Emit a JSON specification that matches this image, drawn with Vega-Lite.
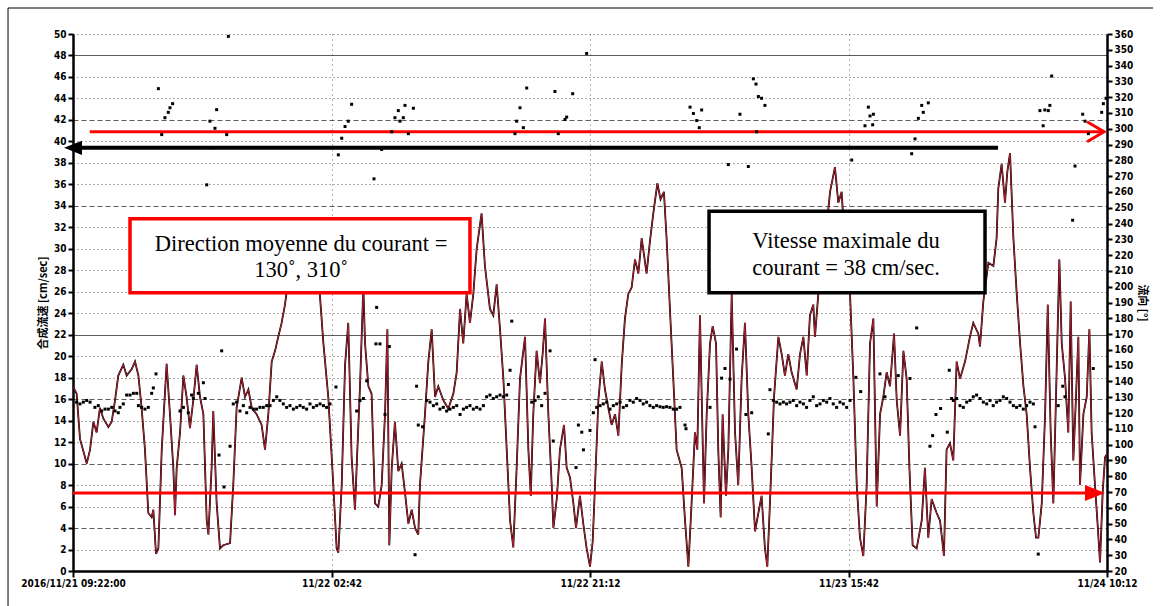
{
  "$schema": "https://vega.github.io/schema/vega-lite/v6.json",
  "width": 1034,
  "height": 537,
  "autosize": {"type": "none"},
  "padding": {"left": 73, "top": 34, "right": 54, "bottom": 35},
  "background": "white",
  "config": {"view": {"stroke": null}},
  "datasets": {
    "speed": [
      {"h":0.0,"v":17.2},{"h":0.26,"v":16.5},{"h":0.5,"v":12.3},{"h":0.86,"v":10.6},{"h":0.98,"v":10.0},{"h":1.22,"v":11.3},{"h":1.46,"v":13.9},{"h":1.69,"v":12.9},{"h":1.93,"v":15.2},{"h":2.17,"v":14.2},{"h":2.53,"v":13.4},{"h":2.77,"v":13.9},{"h":3.01,"v":15.9},{"h":3.24,"v":18.2},{"h":3.6,"v":19.2},{"h":3.84,"v":18.2},{"h":4.2,"v":18.8},{"h":4.44,"v":19.5},{"h":4.68,"v":18.2},{"h":4.91,"v":15.2},{"h":5.15,"v":11.3},{"h":5.39,"v":5.4},{"h":5.63,"v":5.0},{"h":5.75,"v":5.7},{"h":5.94,"v":1.6},{"h":6.11,"v":2.1},{"h":6.35,"v":11.3},{"h":6.7,"v":19.3},{"h":6.94,"v":14.6},{"h":7.18,"v":9.6},{"h":7.3,"v":5.2},{"h":7.42,"v":9.6},{"h":7.66,"v":12.9},{"h":7.9,"v":18.2},{"h":8.13,"v":16.2},{"h":8.37,"v":13.3},{"h":8.61,"v":15.9},{"h":8.85,"v":19.2},{"h":9.09,"v":16.2},{"h":9.33,"v":14.6},{"h":9.57,"v":4.7},{"h":9.69,"v":3.4},{"h":9.92,"v":9.6},{"h":10.04,"v":14.9},{"h":10.28,"v":6.3},{"h":10.52,"v":2.1},{"h":10.76,"v":2.4},{"h":11.24,"v":2.6},{"h":11.47,"v":8.0},{"h":11.71,"v":15.2},{"h":12.07,"v":18.0},{"h":12.31,"v":16.2},{"h":12.55,"v":16.9},{"h":12.79,"v":15.2},{"h":13.14,"v":14.6},{"h":13.5,"v":13.6},{"h":13.74,"v":11.3},{"h":13.98,"v":14.6},{"h":14.22,"v":19.5},{"h":14.46,"v":20.5},{"h":14.69,"v":21.8},{"h":14.93,"v":23.1},{"h":15.17,"v":24.8},{"h":15.41,"v":27.1},{"h":15.65,"v":28.5},{"h":16.01,"v":26.5},{"h":16.25,"v":29.5},{"h":16.96,"v":31.0},{"h":17.4,"v":29.0},{"h":17.68,"v":25.5},{"h":17.92,"v":21.2},{"h":18.27,"v":16.2},{"h":18.63,"v":8.0},{"h":18.87,"v":2.1},{"h":18.99,"v":1.7},{"h":19.23,"v":8.0},{"h":19.47,"v":19.2},{"h":19.7,"v":23.1},{"h":19.94,"v":10.6},{"h":20.18,"v":5.7},{"h":20.35,"v":11.3},{"h":20.54,"v":17.2},{"h":20.78,"v":26.5},{"h":20.9,"v":21.2},{"h":21.14,"v":17.2},{"h":21.37,"v":16.5},{"h":21.61,"v":6.3},{"h":21.85,"v":6.0},{"h":22.09,"v":8.0},{"h":22.33,"v":14.6},{"h":22.5,"v":22.5},{"h":22.64,"v":2.4},{"h":22.81,"v":9.6},{"h":23.04,"v":13.9},{"h":23.28,"v":9.3},{"h":23.52,"v":10.0},{"h":23.76,"v":7.3},{"h":24.0,"v":4.4},{"h":24.24,"v":5.7},{"h":24.48,"v":4.0},{"h":24.71,"v":3.4},
      {"h":24.83,"v":8.0},{"h":25.19,"v":14.6},{"h":25.43,"v":19.5},{"h":25.67,"v":22.5},{"h":25.91,"v":16.2},{"h":26.14,"v":17.2},{"h":26.5,"v":15.9},{"h":26.86,"v":15.1},{"h":27.22,"v":16.5},{"h":27.46,"v":18.5},{"h":27.7,"v":24.4},{"h":27.93,"v":21.2},{"h":28.17,"v":25.8},{"h":28.41,"v":23.1},{"h":28.65,"v":25.8},{"h":28.89,"v":30.0},{"h":29.24,"v":33.3},{"h":29.48,"v":28.4},{"h":29.84,"v":24.4},{"h":30.08,"v":23.8},{"h":30.32,"v":26.7},{"h":30.56,"v":22.5},{"h":30.8,"v":17.9},{"h":31.04,"v":11.3},{"h":31.28,"v":4.7},{"h":31.51,"v":2.2},{"h":31.75,"v":9.6},{"h":31.99,"v":17.9},{"h":32.35,"v":21.8},{"h":32.59,"v":11.3},{"h":32.76,"v":7.0},{"h":32.94,"v":14.6},{"h":33.18,"v":20.5},{"h":33.42,"v":17.5},{"h":33.61,"v":20.2},{"h":33.78,"v":23.5},{"h":34.02,"v":14.6},{"h":34.26,"v":8.0},{"h":34.38,"v":4.0},{"h":34.62,"v":6.7},{"h":34.85,"v":11.3},{"h":35.14,"v":13.6},{"h":35.33,"v":9.6},{"h":35.57,"v":8.7},{"h":35.81,"v":6.3},{"h":36.0,"v":4.0},{"h":36.28,"v":7.0},{"h":36.52,"v":4.4},{"h":36.76,"v":2.1},{"h":37.0,"v":0.4},{"h":37.19,"v":2.7},{"h":37.36,"v":8.0},{"h":37.6,"v":15.9},{"h":37.84,"v":19.5},{"h":38.07,"v":16.9},{"h":38.31,"v":15.2},{"h":38.55,"v":13.6},{"h":38.79,"v":14.6},{"h":39.03,"v":12.6},{"h":39.27,"v":19.2},{"h":39.5,"v":23.5},{"h":39.74,"v":25.8},{"h":39.98,"v":26.4},{"h":40.22,"v":29.0},{"h":40.46,"v":27.7},{"h":40.7,"v":31.0},{"h":41.05,"v":27.7},{"h":41.29,"v":30.7},{"h":41.53,"v":33.3},{"h":41.82,"v":36.1},{"h":42.05,"v":34.6},{"h":42.29,"v":35.3},{"h":42.48,"v":31.0},{"h":42.72,"v":24.4},{"h":42.96,"v":17.9},{"h":43.2,"v":11.3},{"h":43.56,"v":9.6},{"h":43.8,"v":4.7},{"h":44.04,"v":0.4},{"h":44.27,"v":6.3},{"h":44.51,"v":12.9},{"h":44.68,"v":11.3},{"h":44.87,"v":23.8},{"h":45.16,"v":6.3},{"h":45.35,"v":14.6},{"h":45.59,"v":21.2},{"h":45.78,"v":22.8},{"h":46.02,"v":21.2},{"h":46.18,"v":11.3},{"h":46.35,"v":5.0},{"h":46.49,"v":14.6},{"h":46.73,"v":7.0},{"h":46.9,"v":11.3},{"h":47.14,"v":25.8},{"h":47.38,"v":12.9},{"h":47.61,"v":8.0},{"h":47.85,"v":17.9},{"h":48.09,"v":23.1},{"h":48.33,"v":14.6},{"h":48.57,"v":9.6},{"h":48.81,"v":3.7},{"h":49.05,"v":5.4},
      {"h":49.28,"v":7.0},{"h":49.52,"v":2.1},{"h":49.69,"v":0.4},{"h":49.93,"v":8.0},{"h":50.17,"v":16.2},{"h":50.48,"v":21.8},{"h":50.72,"v":20.2},{"h":50.95,"v":18.2},{"h":51.19,"v":20.2},{"h":51.43,"v":18.5},{"h":51.79,"v":16.9},{"h":52.03,"v":20.2},{"h":52.27,"v":21.8},{"h":52.51,"v":18.2},{"h":52.74,"v":23.8},{"h":52.98,"v":24.8},{"h":53.1,"v":21.8},{"h":53.34,"v":25.8},{"h":53.7,"v":29.0},{"h":54.18,"v":35.3},{"h":54.53,"v":37.6},{"h":54.77,"v":34.3},{"h":55.01,"v":35.3},{"h":55.25,"v":30.0},{"h":55.61,"v":25.8},{"h":55.85,"v":17.9},{"h":56.09,"v":8.0},{"h":56.32,"v":3.1},{"h":56.56,"v":1.4},{"h":56.8,"v":8.0},{"h":57.04,"v":21.2},{"h":57.28,"v":23.5},{"h":57.52,"v":6.0},{"h":57.76,"v":14.6},{"h":57.99,"v":16.2},{"h":58.23,"v":18.5},{"h":58.47,"v":17.2},{"h":58.76,"v":22.1},{"h":58.95,"v":15.9},{"h":59.19,"v":12.6},{"h":59.43,"v":20.5},{"h":59.66,"v":17.9},{"h":59.86,"v":9.6},{"h":60.09,"v":2.4},{"h":60.38,"v":2.1},{"h":60.74,"v":4.7},{"h":60.97,"v":9.6},{"h":61.21,"v":3.1},{"h":61.45,"v":6.7},{"h":61.81,"v":5.4},{"h":62.05,"v":4.7},{"h":62.33,"v":1.4},{"h":62.52,"v":11.3},{"h":62.76,"v":11.9},{"h":63.0,"v":10.3},{"h":63.24,"v":19.5},{"h":63.48,"v":17.9},{"h":63.84,"v":19.5},{"h":64.19,"v":21.8},{"h":64.43,"v":23.1},{"h":64.79,"v":22.1},{"h":64.91,"v":20.9},{"h":65.15,"v":25.1},{"h":65.51,"v":28.7},{"h":65.87,"v":28.4},{"h":66.1,"v":31.0},{"h":66.22,"v":35.6},{"h":66.46,"v":37.9},{"h":66.7,"v":34.3},{"h":66.87,"v":37.2},{"h":67.06,"v":38.9},{"h":67.3,"v":31.0},{"h":67.54,"v":25.8},{"h":67.78,"v":21.2},{"h":68.02,"v":17.2},{"h":68.25,"v":14.6},{"h":68.49,"v":9.6},{"h":68.73,"v":5.4},{"h":68.92,"v":3.1},{"h":69.09,"v":3.1},{"h":69.33,"v":6.3},{"h":69.57,"v":14.6},{"h":69.76,"v":24.8},{"h":69.97,"v":12.9},{"h":70.16,"v":6.3},{"h":70.35,"v":16.2},{"h":70.59,"v":29.0},{"h":70.76,"v":21.2},{"h":71.0,"v":17.9},{"h":71.23,"v":12.9},{"h":71.4,"v":25.1},{"h":71.59,"v":10.3},{"h":71.78,"v":16.2},{"h":71.95,"v":21.8},{"h":72.07,"v":8.0},{"h":72.31,"v":14.6},{"h":72.55,"v":16.2},{"h":72.74,"v":22.5},{"h":72.9,"v":12.9},{"h":73.14,"v":8.0},{"h":73.31,"v":4.7},{"h":73.5,"v":0.8},{"h":73.69,"v":7.3},{"h":73.86,"v":10.6},{"h":74.0,"v":10.9}
    ],
    "dir": [
      {"h":0.26,"d":126.9},{"h":0.5,"d":125.8},{"h":0.74,"d":126.9},{"h":0.98,"d":128.0},{"h":1.22,"d":126.9},{"h":1.57,"d":123.6},{"h":1.81,"d":124.7},{"h":2.05,"d":121.3},{"h":2.29,"d":122.5},{"h":2.53,"d":122.5},{"h":2.77,"d":123.6},{"h":3.01,"d":121.3},{"h":3.24,"d":120.2},{"h":3.36,"d":123.6},{"h":3.6,"d":125.8},{"h":3.84,"d":131.4},{"h":4.08,"d":131.4},{"h":4.32,"d":132.5},{"h":4.56,"d":132.5},{"h":4.68,"d":124.7},{"h":4.91,"d":123.6},{"h":5.15,"d":122.5},{"h":5.39,"d":123.6},{"h":5.63,"d":132.5},{"h":5.75,"d":135.9},{"h":5.94,"d":144.8},
      {"h":6.11,"d":325.4},{"h":6.35,"d":296.3},{"h":6.58,"d":307.0},{"h":6.82,"d":310.4},{"h":6.94,"d":313.3},{"h":7.13,"d":315.9},
      {"h":7.66,"d":121.3},{"h":7.9,"d":123.6},{"h":8.25,"d":120.2},{"h":8.49,"d":131.4},{"h":8.61,"d":129.2},{"h":8.97,"d":132.5},{"h":9.33,"d":139.2},{"h":9.45,"d":129.2},
      {"h":9.57,"d":264.5},{"h":9.8,"d":304.8},{"h":10.0,"d":288.0},{"h":10.16,"d":300.3},{"h":10.28,"d":312.1},{"h":11.0,"d":296.3},{"h":11.12,"d":358.5},
      {"h":10.45,"d":93.4},{"h":10.64,"d":159.4},{"h":10.81,"d":73.2},{"h":11.24,"d":99.0},
      {"h":11.47,"d":125.8},{"h":11.71,"d":126.9},{"h":11.95,"d":121.3},{"h":12.19,"d":124.7},{"h":12.43,"d":120.2},{"h":12.67,"d":123.6},{"h":12.91,"d":122.5},{"h":13.14,"d":122.5},{"h":13.38,"d":123.6},{"h":13.62,"d":123.6},{"h":13.86,"d":124.7},{"h":14.1,"d":124.7},{"h":14.34,"d":128.0},{"h":14.58,"d":130.3},{"h":14.81,"d":128.0},{"h":15.05,"d":125.8},{"h":15.29,"d":123.6},{"h":15.53,"d":124.7},{"h":15.77,"d":122.5},{"h":16.01,"d":123.6},{"h":16.25,"d":124.7},{"h":16.48,"d":123.6},{"h":16.72,"d":122.5},{"h":16.96,"d":125.8},{"h":17.2,"d":123.6},{"h":17.44,"d":124.7},{"h":17.68,"d":125.8},{"h":17.92,"d":124.7},{"h":18.15,"d":123.6},{"h":18.39,"d":125.8},{"h":18.82,"d":136.5},
      {"h":18.99,"d":283.5},{"h":19.23,"d":294.0},{"h":19.47,"d":301.4},{"h":19.7,"d":304.8},{"h":19.94,"d":315.5},
      {"h":20.3,"d":121.3},{"h":20.54,"d":128.0},{"h":20.78,"d":129.2},{"h":21.02,"d":140.4},{"h":21.68,"d":163.8},{"h":21.73,"d":186.9},{"h":21.97,"d":163.8},{"h":22.33,"d":119.1},{"h":22.64,"d":162.1},
      {"h":21.54,"d":268.3},{"h":22.09,"d":286.9},{"h":22.81,"d":298.1},{"h":23.04,"d":307.0},{"h":23.28,"d":311.5},{"h":23.4,"d":304.8},{"h":23.64,"d":307.0},{"h":23.76,"d":314.8},{"h":24.0,"d":296.9},{"h":24.36,"d":313.0},
      {"h":24.48,"d":30.3},{"h":24.59,"d":137.0},{"h":24.71,"d":112.4},{"h":25.02,"d":111.3},
      {"h":25.31,"d":128.0},{"h":25.55,"d":126.9},{"h":25.79,"d":124.7},{"h":26.03,"d":125.8},{"h":26.26,"d":122.5},{"h":26.5,"d":123.6},{"h":26.74,"d":121.3},{"h":26.98,"d":122.5},{"h":27.22,"d":123.6},{"h":27.46,"d":124.7},{"h":27.7,"d":119.1},{"h":27.94,"d":122.5},{"h":28.17,"d":123.6},{"h":28.41,"d":124.7},{"h":28.65,"d":122.5},{"h":28.89,"d":123.6},{"h":29.13,"d":122.5},{"h":29.37,"d":124.7},{"h":29.6,"d":130.3},{"h":29.84,"d":131.4},{"h":30.08,"d":129.2},{"h":30.32,"d":130.3},{"h":30.56,"d":131.4},{"h":30.8,"d":130.3},{"h":31.04,"d":131.4},{"h":31.16,"d":138.1},{"h":31.28,"d":147.1},{"h":31.4,"d":178.2},
      {"h":31.63,"d":296.9},{"h":31.75,"d":304.8},{"h":31.99,"d":313.3},{"h":32.23,"d":300.7},{"h":32.47,"d":325.8},
      {"h":32.83,"d":126.9},{"h":33.07,"d":128.0},{"h":33.3,"d":130.3},{"h":33.54,"d":124.7},{"h":33.78,"d":132.5},{"h":34.14,"d":159.4},{"h":34.37,"d":102.3},
      {"h":34.49,"d":323.6},{"h":34.73,"d":296.9},{"h":35.21,"d":305.9},{"h":35.33,"d":307.4},{"h":35.76,"d":322.2},{"h":36.76,"d":347.7},
      {"h":36.0,"d":85.5},{"h":36.17,"d":112.4},{"h":36.41,"d":107.9},{"h":36.53,"d":96.7},{"h":37.0,"d":109.0},{"h":37.24,"d":120.2},{"h":37.36,"d":153.8},
      {"h":37.48,"d":123.6},{"h":37.72,"d":124.7},{"h":37.95,"d":125.8},{"h":38.19,"d":126.9},{"h":38.43,"d":122.5},{"h":38.67,"d":124.7},{"h":38.91,"d":125.8},{"h":39.15,"d":126.9},{"h":39.38,"d":123.6},{"h":39.62,"d":124.7},{"h":39.86,"d":128.0},{"h":40.1,"d":126.9},{"h":40.34,"d":129.2},{"h":40.58,"d":128.0},{"h":40.81,"d":125.8},{"h":41.05,"d":126.9},{"h":41.29,"d":124.7},{"h":41.53,"d":123.6},{"h":41.77,"d":124.7},{"h":42.01,"d":124.0},{"h":42.24,"d":123.6},{"h":42.48,"d":124.0},{"h":42.72,"d":123.6},{"h":42.96,"d":122.5},{"h":43.2,"d":122.5},{"h":43.44,"d":123.6},{"h":43.8,"d":112.4},{"h":43.87,"d":110.1},
      {"h":44.16,"d":313.7},{"h":44.4,"d":309.7},{"h":44.64,"d":305.2},{"h":44.82,"d":300.7},{"h":44.99,"d":311.9},
      {"h":45.59,"d":123.6},{"h":46.42,"d":142.1},{"h":46.66,"d":148.2},{"h":47.02,"d":141.5},{"h":47.49,"d":160.5},{"h":48.16,"d":119.1},{"h":48.57,"d":120.2},
      {"h":46.9,"d":277.3},{"h":47.73,"d":309.2},{"h":48.33,"d":276.1},{"h":48.69,"d":331.6},{"h":49.05,"d":320.4},
      {"h":48.88,"d":328.3},{"h":49.28,"d":319.3},{"h":49.52,"d":314.8},{"h":48.93,"d":298.1},{"h":49.76,"d":106.8},
      {"h":49.88,"d":134.8},{"h":50.12,"d":128.0},{"h":50.36,"d":126.9},{"h":50.6,"d":125.8},{"h":50.84,"d":126.9},{"h":51.07,"d":125.8},{"h":51.31,"d":126.9},{"h":51.55,"d":128.0},{"h":51.79,"d":124.7},{"h":52.03,"d":126.9},{"h":52.27,"d":125.8},{"h":52.5,"d":123.6},{"h":52.74,"d":128.0},{"h":52.98,"d":130.3},{"h":53.22,"d":124.7},{"h":53.46,"d":125.8},{"h":53.7,"d":128.0},{"h":53.94,"d":126.9},{"h":54.17,"d":129.2},{"h":54.41,"d":125.8},{"h":54.65,"d":123.6},{"h":54.89,"d":126.9},{"h":55.13,"d":125.8},{"h":55.37,"d":123.6},{"h":55.61,"d":128.0},{"h":56.03,"d":142.6},{"h":56.37,"d":133.6},
      {"h":55.73,"d":280.2},{"h":56.68,"d":301.9},{"h":56.92,"d":313.7},{"h":57.04,"d":308.1},{"h":57.23,"d":302.5},{"h":57.28,"d":309.2},
      {"h":57.75,"d":144.8},{"h":58.11,"d":130.3},{"h":59.06,"d":143.7},{"h":59.9,"d":141.9},{"h":60.38,"d":173.9},
      {"h":60.02,"d":284.2},{"h":60.26,"d":293.6},{"h":60.5,"d":306.6},{"h":60.74,"d":314.8},{"h":60.85,"d":310.4},{"h":61.21,"d":316.4},
      {"h":61.33,"d":99.0},{"h":61.52,"d":105.7},{"h":61.76,"d":119.1},{"h":62.09,"d":122.9},{"h":62.57,"d":107.9},{"h":62.71,"d":147.1},{"h":62.88,"d":129.2},
      {"h":63.0,"d":128.0},{"h":63.24,"d":129.2},{"h":63.48,"d":124.7},{"h":63.72,"d":123.6},{"h":63.96,"d":126.9},{"h":64.19,"d":128.0},{"h":64.43,"d":130.3},{"h":64.67,"d":131.4},{"h":64.91,"d":129.2},{"h":65.15,"d":126.9},{"h":65.39,"d":125.8},{"h":65.63,"d":128.0},{"h":65.86,"d":124.7},{"h":66.1,"d":126.9},{"h":66.34,"d":128.0},{"h":66.58,"d":130.3},{"h":66.82,"d":129.2},{"h":67.06,"d":126.9},{"h":67.3,"d":124.7},{"h":67.53,"d":123.6},{"h":67.77,"d":124.7},{"h":68.01,"d":122.5},{"h":68.25,"d":124.7},{"h":68.49,"d":126.9},{"h":68.73,"d":125.8},{"h":68.85,"d":111.3},{"h":69.08,"d":30.7},
      {"h":70.51,"d":124.7},{"h":70.83,"d":137.0},{"h":70.99,"d":130.3},{"h":73.02,"d":148.2},
      {"h":69.2,"d":311.5},{"h":69.43,"d":301.9},{"h":69.55,"d":311.9},{"h":69.8,"d":311.5},{"h":69.91,"d":314.8},{"h":70.04,"d":333.4},{"h":71.54,"d":242.1},{"h":71.71,"d":276.4},{"h":72.26,"d":309.2},{"h":72.43,"d":304.8},{"h":72.67,"d":296.9},{"h":73.62,"d":310.4},{"h":73.74,"d":315.9},{"h":73.93,"d":319.3}
    ]
  },
  "layer": [
    {
      "layer": [
        {
          "data": {"name": "speed"},
          "mark": {"type": "line", "color": "black", "strokeWidth": 1.8},
          "encoding": {
            "x": {
              "field": "h", "type": "quantitative",
              "scale": {"domain": [0, 74], "nice": false, "zero": false},
              "axis": {
                "values": [0, 18.5, 37, 55.5, 74],
                "labelExpr": "datum.value == 0 ? '2016/11/21 09:22:00' : datum.value == 18.5 ? '11/22 02:42' : datum.value == 37 ? '11/22 21:12' : datum.value == 55.5 ? '11/23 15:42' : '11/24 10:12'",
                "title": null, "labelFlush": false, "labelOverlap": false,
                "grid": true, "gridDash": [1, 4], "gridColor": "#666", "gridWidth": 1,
                "domainColor": "black", "domainWidth": 2.5,
                "tickColor": "black", "tickWidth": 2, "tickSize": 6,
                "labelFont": "Liberation Sans Narrow, DejaVu Sans Condensed, sans-serif",
                "labelFontWeight": "bold", "labelFontSize": 10, "labelColor": "black", "labelPadding": 1
              }
            },
            "y": {
              "field": "v", "type": "quantitative",
              "scale": {"domain": [0, 50], "nice": false, "zero": false},
              "axis": {
                "orient": "left",
                "values": [0,2,4,6,8,10,12,14,16,18,20,22,24,26,28,30,32,34,36,38,40,42,44,46,48,50],
                "tickCount": 100,
                "format": "d",
                "labelOverlap": false,
                "title": "合成流速 [cm/sec]",
                "titleFont": "Liberation Sans Narrow, Noto Sans CJK JP, sans-serif",
                "titleFontSize": 11, "titleFontWeight": "bold", "titleColor": "black", "titlePadding": 5,
                "grid": true,
                "gridDash": {"condition": [{"test": "datum.value == 48 || datum.value == 22", "value": []}, {"test": "datum.value == 42 || datum.value == 34 || datum.value == 16 || datum.value == 10 || datum.value == 4", "value": [5, 3]}], "value": [1, 3]},
                "gridColor": "#333", "gridOpacity": 0.8, "gridWidth": 1,
                "domainColor": "black", "domainWidth": 2.5,
                "tickColor": "black", "tickWidth": 2, "tickSize": 5,
                "labelFont": "Liberation Sans Narrow, DejaVu Sans Condensed, sans-serif",
                "labelFontWeight": "bold", "labelFontSize": 10, "labelColor": "black", "labelPadding": 2
              }
            }
          }
        },
        {
          "data": {"values": [{"h": -4.65, "h2": 77.3, "v": 52.42, "v2": 52.42}, {"h": -4.65, "h2": -4.65, "v": -3.3, "v2": 52.42}]},
          "mark": {"type": "rule", "color": "black", "strokeWidth": 1},
          "encoding": {
            "x": {"field": "h", "type": "quantitative"},
            "x2": {"field": "h2"},
            "y": {"field": "v", "type": "quantitative"},
            "y2": {"field": "v2"}
          }
        },
        {
          "data": {"name": "speed"},
          "mark": {"type": "line", "color": "#b3202e", "strokeWidth": 1.0},
          "encoding": {
            "x": {"field": "h", "type": "quantitative"},
            "y": {"field": "v", "type": "quantitative"}
          }
        },
        {
          "data": {"values": [{"h": 4.08, "h2": 28.41, "v": 25.9, "v2": 32.8}]},
          "mark": {"type": "rect", "fill": "white", "stroke": "#ff0000", "strokeWidth": 3.5},
          "encoding": {
            "x": {"field": "h", "type": "quantitative"},
            "x2": {"field": "h2"},
            "y": {"field": "v", "type": "quantitative"},
            "y2": {"field": "v2"}
          }
        },
        {
          "data": {"values": [{"h": 45.52, "h2": 65.27, "v": 25.9, "v2": 33.5}]},
          "mark": {"type": "rect", "fill": "white", "stroke": "black", "strokeWidth": 3.5},
          "encoding": {
            "x": {"field": "h", "type": "quantitative"},
            "x2": {"field": "h2"},
            "y": {"field": "v", "type": "quantitative"},
            "y2": {"field": "v2"}
          }
        },
        {
          "data": {"values": [{"h": 1.2, "h2": 73.7, "v": 40.9}, {"h": 0, "h2": 72.6, "v": 7.27}]},
          "mark": {"type": "rule", "color": "#ff0000", "strokeWidth": 3},
          "encoding": {
            "x": {"field": "h", "type": "quantitative"},
            "x2": {"field": "h2"},
            "y": {"field": "v", "type": "quantitative"}
          }
        },
        {
          "data": {"values": [{"h": 0.5, "h2": 66.2, "v": 39.4}]},
          "mark": {"type": "rule", "color": "black", "strokeWidth": 4},
          "encoding": {
            "x": {"field": "h", "type": "quantitative"},
            "x2": {"field": "h2"},
            "y": {"field": "v", "type": "quantitative"}
          }
        },
        {
          "data": {"values": [{"h": 73.79, "v": 40.9}]},
          "mark": {"type": "point", "shape": "M-1.7,-1L0,0L-1.7,1", "filled": false, "stroke": "#ff0000", "strokeWidth": 3, "size": 400, "opacity": 1},
          "encoding": {
            "x": {"field": "h", "type": "quantitative"},
            "y": {"field": "v", "type": "quantitative"}
          }
        },
        {
          "data": {"values": [{"h": 73.14, "v": 7.27}]},
          "mark": {"type": "point", "shape": "M-1,-0.8L1,0L-1,0.8Z", "filled": true, "color": "#ff0000", "size": 400, "opacity": 1},
          "encoding": {
            "x": {"field": "h", "type": "quantitative"},
            "y": {"field": "v", "type": "quantitative"}
          }
        },
        {
          "data": {"values": [{"h": 0.0, "v": 39.4}]},
          "mark": {"type": "point", "shape": "M1,-0.8L-1,0L1,0.8Z", "filled": true, "color": "black", "size": 324, "opacity": 1},
          "encoding": {
            "x": {"field": "h", "type": "quantitative"},
            "y": {"field": "v", "type": "quantitative"}
          }
        },
        {
          "data": {"values": [
            {"h": 16.32, "v": 30.45, "t": "Direction moyenne du courant ="},
            {"h": 16.32, "v": 28.03, "t": "130˚, 310˚"},
            {"h": 55.32, "v": 30.77, "t": "Vitesse maximale du"},
            {"h": 55.32, "v": 28.21, "t": "courant = 38 cm/sec."}
          ]},
          "mark": {"type": "text", "font": "Liberation Serif, Times New Roman, serif", "fontSize": 22.5, "align": "center", "baseline": "middle", "color": "black"},
          "encoding": {
            "x": {"field": "h", "type": "quantitative"},
            "y": {"field": "v", "type": "quantitative"},
            "text": {"field": "t"}
          }
        }
      ]
    },
    {
      "data": {"name": "dir"},
      "mark": {"type": "point", "shape": "square", "filled": true, "color": "black", "size": 9, "opacity": 1},
      "encoding": {
        "x": {"field": "h", "type": "quantitative"},
        "y": {
          "field": "d", "type": "quantitative",
          "scale": {"domain": [20, 360], "nice": false, "zero": false},
          "axis": {
            "orient": "right",
            "values": [20,30,40,50,60,70,80,90,100,110,120,130,140,150,160,170,180,190,200,210,220,230,240,250,260,270,280,290,300,310,320,330,340,350,360],
            "tickCount": 100,
            "format": "d",
            "labelOverlap": false,
            "title": "流向 [°]",
            "titleFont": "Liberation Sans Narrow, Noto Sans CJK JP, sans-serif",
            "titleFontSize": 11, "titleFontWeight": "bold", "titleColor": "black", "titlePadding": 4,
            "grid": false,
            "domainColor": "black", "domainWidth": 2.5,
            "tickColor": "black", "tickWidth": 2, "tickSize": 5,
            "labelFont": "Liberation Sans Narrow, DejaVu Sans Condensed, sans-serif",
            "labelFontWeight": "bold", "labelFontSize": 10, "labelColor": "black", "labelPadding": 2
          }
        }
      }
    }
  ],
  "resolve": {"scale": {"y": "independent"}}
}
